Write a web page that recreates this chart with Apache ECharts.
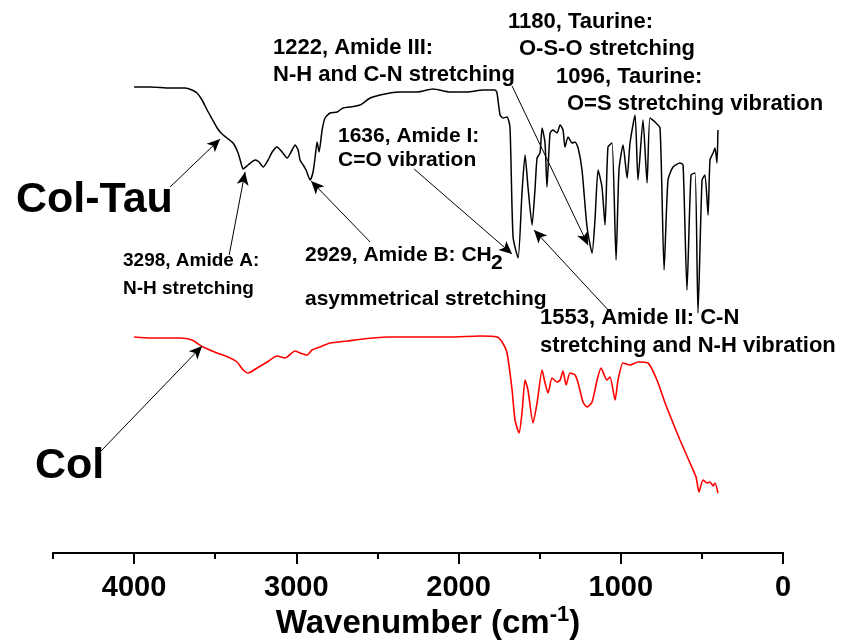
<!DOCTYPE html>
<html>
<head>
<meta charset="utf-8">
<script src="https://cdn.jsdelivr.net/npm/echarts@6/dist/echarts.min.js"></script>
<style>
  html, body { margin: 0; padding: 0; background: #fff; }
  #chart { width: 851px; height: 641px; }
</style>
</head>
<body>
<div id="chart"></div>
<script>
// Col-Tau spectrum (black): wavenumber (cm-1) and transmittance (a.u.)
const colTauWn = [4000,3901,3778,3686,3643,3612,3581,3550,3519,3488,
  3458,3427,3390,3359,3341,3328,3298,3254,3230,3205,
  3174,3149,3119,3088,3057,3026,3008,2989,2977,2958,
  2940,2915,2897,2884,2872,2860,2841,2823,2792,2749,
  2712,2669,2607,2545,2484,2422,2361,2256,2157,2052,
  1948,1849,1775,1763,1744,1726,1701,1683,1664,1633,
  1609,1590,1572,1547,1529,1516,1498,1485,1467,1455,
  1436,1418,1393,1374,1356,1344,1325,1300,1282,1263,
  1239,1208,1177,1159,1140,1116,1097,1079,1054,1029,
  1011,986,961,943,912,894,863,838,820,789,
  758,733,709,678,635,616,592,567,542,524,
  499,481,462,450,431,419,407,401];
const colTauT = [466,466,465,465,463,460,453,443,434,425,
  419,415,410,400,390,384,388,393,391,386,
  393,401,406,401,395,403,408,403,393,388,
  383,373,381,396,411,401,423,435,440,441,
  445,446,448,455,458,460,461,461,464,461,
  461,463,463,460,438,435,436,426,316,295,
  360,398,366,328,363,395,400,425,410,366,
  420,423,420,428,423,406,416,410,411,405,
  383,326,300,333,383,366,328,406,410,293,
  383,408,375,410,438,373,433,370,435,431,
  425,283,373,386,390,388,263,378,380,240,
  373,378,338,393,400,405,390,423];

// Col spectrum (red)
const colWn = [4000,3901,3821,3716,3643,3575,3488,3408,3365,3328,
  3297,3242,3180,3119,3069,3008,2977,2934,2903,2854,
  2792,2687,2589,2441,2237,2052,1867,1763,1732,1701,
  1670,1652,1627,1609,1590,1572,1541,1516,1485,1467,
  1448,1424,1393,1374,1356,1337,1313,1282,1263,1233,
  1208,1177,1146,1122,1085,1066,1035,1017,986,943,
  894,832,777,727,678,635,573,536,518,493,
  468,450,431,419,401];
const colT = [216,215,215,215,213,206,200,195,191,183,
  180,185,191,197,195,202,200,198,203,206,
  210,212,214,216,216,216,217,216,211,200,
  163,133,120,140,173,163,130,150,183,170,
  160,175,171,173,182,168,180,178,170,151,
  146,151,173,185,173,176,153,173,190,188,
  191,190,173,150,130,113,90,76,61,73,
  70,71,67,70,60];

// tick values of the wavenumber axis
const majorTicks = [0, 1000, 2000, 3000, 4000];

// annotation arrows on Col-Tau: [tailWn, tailT, tipWn, tipT]
const colTauArrows = [
  [3778, 366, 3470, 414],   // Col-Tau label
  [3414, 298, 3316, 381],   // 3298 Amide A
  [2545, 311, 2909, 372],   // 2929 Amide B
  [2274, 384, 1670, 299],   // 1636 Amide I
  [1066, 241, 1535, 323],   // 1553 Amide II
  [1670, 467, 1202, 308]    // 1222 Amide III
];
// arrow on Col
const colArrows = [
  [4210, 101, 3581, 207]
];

const FONT = 'Liberation Sans, Arial, Helvetica, sans-serif';

function zip(xs, ys) {
  return xs.map((x, i) => [x, ys[i]]);
}

function arrowLines(list) {
  return list.map(a => [
    { coord: [a[0], a[1]], symbol: 'none' },
    { coord: [a[2], a[3]], symbol: 'arrow', symbolSize: [9, 13] }
  ]);
}

function label(text, x, y, size) {
  return {
    type: 'text',
    left: x,
    top: y - size * 0.5,
    style: { text: text, font: 'bold ' + size + 'px ' + FONT, fill: '#000' },
    silent: true
  };
}

const arrowMark = (list) => ({
  silent: true,
  animation: false,
  symbol: ['none', 'arrow'],
  symbolSize: 12,
  label: { show: false },
  emphasis: { disabled: true },
  itemStyle: { color: '#000' },
  lineStyle: { color: '#000', width: 1, type: 'solid' },
  data: arrowLines(list)
});

const chart = echarts.init(document.getElementById('chart'), null, { renderer: 'canvas' });

chart.setOption({
  animation: false,
  backgroundColor: '#fff',
  grid: { left: 53, right: 68, top: 0, bottom: 88, outerBoundsMode: 'none' },
  xAxis: [
    {
      type: 'value',
      inverse: true,
      min: 0,
      max: 4500,
      interval: 1000,
      position: 'bottom',
      axisLine: { onZero: false, lineStyle: { color: '#000', width: 2 } },
      axisTick: { customValues: majorTicks, length: 11, lineStyle: { color: '#000', width: 2 } },
      axisLabel: {
        customValues: majorTicks,
        formatter: (v) => String(v),
        margin: 20,
        color: '#000',
        fontFamily: FONT,
        fontWeight: 'bold',
        fontSize: 29
      },
      splitLine: { show: false },
      name: '{a|Wavenumber (cm}{b|-1}{a|)}',
      nameLocation: 'middle',
      nameGap: 51,
      nameMoveOverlap: false,
      nameTextStyle: {
        padding: [0, 0, 0, 20],
        rich: {
          a: { fontFamily: FONT, fontWeight: 'bold', fontSize: 33, lineHeight: 40, color: '#000' },
          b: { fontFamily: FONT, fontWeight: 'bold', fontSize: 22, lineHeight: 22, verticalAlign: 'top', color: '#000' }
        }
      }
    },
    {
      type: 'value',
      inverse: true,
      min: 0,
      max: 4500,
      interval: 500,
      position: 'bottom',
      axisLine: { onZero: false, lineStyle: { color: '#000', width: 2 } },
      axisTick: { length: 6, lineStyle: { color: '#000', width: 2 } },
      axisLabel: { show: false },
      splitLine: { show: false }
    }
  ],
  yAxis: { type: 'value', min: 0, max: 553, show: false },
  series: [
    {
      name: 'Col-Tau',
      type: 'line',
      data: zip(colTauWn, colTauT),
      showSymbol: false,
      smooth: 0.2,
      lineStyle: { color: '#000', width: 1.5 },
      markLine: arrowMark(colTauArrows)
    },
    {
      name: 'Col',
      type: 'line',
      data: zip(colWn, colT),
      showSymbol: false,
      smooth: 0.2,
      lineStyle: { color: '#ff0000', width: 1.6 },
      markLine: arrowMark(colArrows)
    }
  ],
  graphic: [
    label('Col-Tau', 16, 200, 43),
    label('Col', 35, 466, 43),
    label('3298, Amide A:', 123, 261, 19),
    label('N-H stretching', 123, 289, 19),
    label('2929, Amide B: CH', 305, 255, 21),
    label('2', 491, 263, 21),
    label('asymmetrical stretching', 305, 299, 21),
    label('1636, Amide I:', 338, 136, 21),
    label('C=O vibration', 338, 160, 21),
    label('1222, Amide III:', 273, 48, 22),
    label('N-H and C-N stretching', 273, 75, 22),
    label('1180, Taurine:', 508, 22, 22),
    label('O-S-O stretching', 519, 49, 22),
    label('1096, Taurine:', 556, 77, 22),
    label('O=S stretching vibration', 567, 104, 22),
    label('1553, Amide II: C-N', 540, 318, 22),
    label('stretching and N-H vibration', 540, 346, 22)
  ]
});
</script>
</body>
</html>
